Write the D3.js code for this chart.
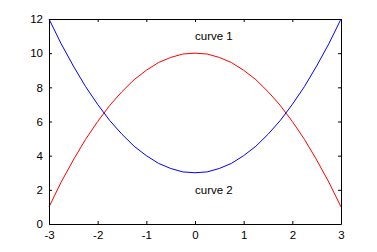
<!DOCTYPE html>
<html>
<head>
<meta charset="utf-8">
<script src="https://cdn.jsdelivr.net/npm/d3@7"></script>
<style>
body { margin: 0; background: #fff; }
text { font-family: "Liberation Sans", Arial, sans-serif; font-size: 11.5px; fill: #000; }
</style>
</head>
<body>
<div id="chart"></div>
<script>
var width = 377,
    height = 252;

// x positions
var xs = [-3, -2.75, -2.5, -2.25, -2, -1.75, -1.5, -1.25, -1, -0.75, -0.5, -0.25, 0,
          0.25, 0.5, 0.75, 1, 1.25, 1.5, 1.75, 2, 2.25, 2.5, 2.75, 3];
var curve1 = [1, 2.45, 3.75, 4.95, 6, 6.95, 7.75, 8.45, 9, 9.45, 9.75, 9.95, 10,
              9.95, 9.75, 9.45, 9, 8.45, 7.75, 6.95, 6, 4.95, 3.75, 2.45, 1];
var curve2 = [12, 10.55, 9.25, 8.05, 7, 6.05, 5.25, 4.55, 4, 3.55, 3.25, 3.05, 3,
              3.05, 3.25, 3.55, 4, 4.55, 5.25, 6.05, 7, 8.05, 9.25, 10.55, 12];
var xTicks = [-3, -2, -1, 0, 1, 2, 3];
var yTicks = [0, 2, 4, 6, 8, 10, 12];
var labels = [
    { text: "curve 1", x: 0, y: 11 },
    { text: "curve 2", x: 0, y: 2 }
];

var margin = { left: 49, right: 36, top: 19, bottom: 28 };

var x = d3.scaleLinear()
    .domain([-3, 3])
    .range([margin.left, width - margin.right]);

var y = d3.scaleLinear()
    .domain([0, 12])
    .range([height - margin.bottom, margin.top]);

var svg = d3.select("#chart").append("svg")
    .attr("width", width)
    .attr("height", height);

var line = d3.line()
    .x(function (d) { return x(d[0]); })
    .y(function (d) { return y(d[1]); });

svg.append("path")
    .datum(d3.zip(xs, curve1))
    .attr("d", line)
    .attr("fill", "none")
    .attr("stroke", "#ff0000")
    .attr("stroke-width", 1);

svg.append("path")
    .datum(d3.zip(xs, curve2))
    .attr("d", line)
    .attr("fill", "none")
    .attr("stroke", "#0000ff")
    .attr("stroke-width", 1);

// axes with inward ticks, box on
var tickLen = 3;
var plain = function (d) { return String(d); }; // keep ascii hyphen for minus
function styleAxis(g) {
    g.select(".domain").attr("stroke", "#000").attr("stroke-width", 1);
    g.selectAll(".tick line").attr("stroke", "#000");
    g.selectAll("text").attr("font-size", null).attr("font-family", null).attr("fill", "#000");
}

svg.append("g")
    .attr("transform", "translate(0," + y(0) + ")")
    .call(d3.axisBottom(x).tickValues(xTicks).tickFormat(plain)
        .tickSizeInner(-tickLen).tickSizeOuter(0).tickPadding(7))
    .call(styleAxis);

svg.append("g")
    .attr("transform", "translate(0," + y(12) + ")")
    .call(d3.axisTop(x).tickValues(xTicks).tickSizeInner(-tickLen).tickSizeOuter(0).tickFormat(""))
    .call(styleAxis);

svg.append("g")
    .attr("transform", "translate(" + x(-3) + ",0)")
    .call(d3.axisLeft(y).tickValues(yTicks).tickFormat(plain)
        .tickSizeInner(-tickLen).tickSizeOuter(0).tickPadding(6))
    .call(styleAxis);

svg.append("g")
    .attr("transform", "translate(" + x(3) + ",0)")
    .call(d3.axisRight(y).tickValues(yTicks).tickSizeInner(-tickLen).tickSizeOuter(0).tickFormat(""))
    .call(styleAxis);

svg.selectAll("text.label")
    .data(labels)
    .enter().append("text")
    .attr("class", "label")
    .attr("x", function (d) { return x(d.x); })
    .attr("y", function (d) { return y(d.y); })
    .attr("dy", "0.35em")
    .text(function (d) { return d.text; });
</script>
</body>
</html>
